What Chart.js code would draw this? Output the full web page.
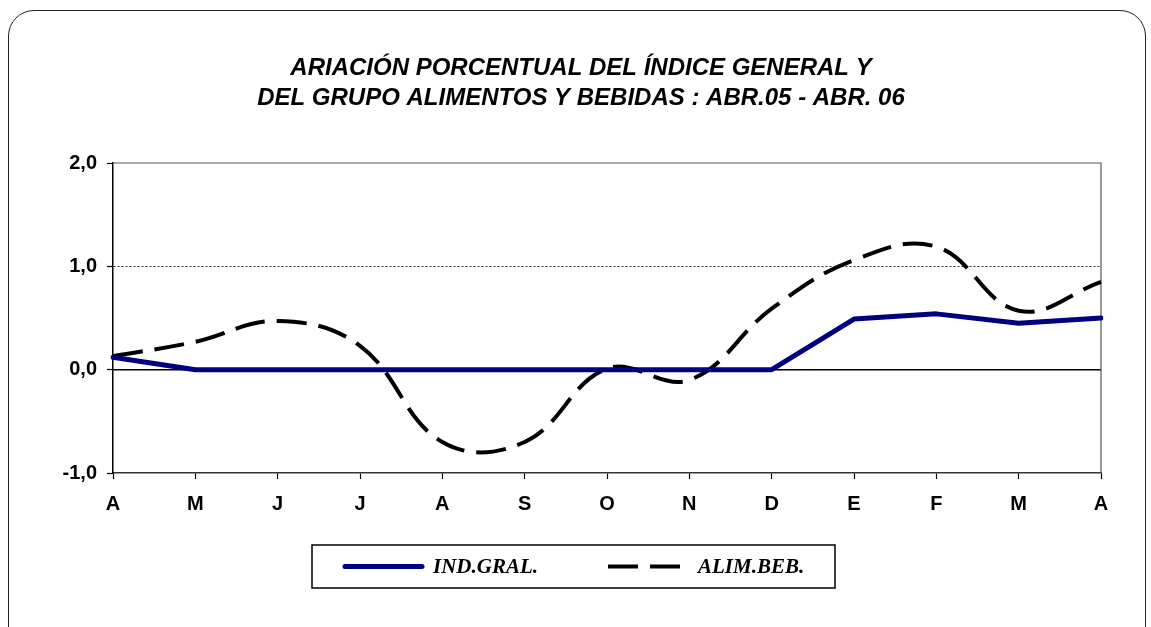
<!DOCTYPE html>
<html lang="es">
<head>
    <meta charset="UTF-8">
    <title>Variación porcentual - Índice general y alimentos</title>
    <script src="https://cdn.jsdelivr.net/npm/chart.js"></script>
    <style>
        body {
            margin: 0;
            background: #ffffff;
            font-family: "Liberation Sans", Arial, sans-serif;
        }
        #marco {
            position: absolute;
            left: 8px;
            top: 10px;
            width: 1136px;
            height: 660px;
            border: 1px solid #222;
            border-radius: 26px;
        }
        #wrap {
            position: absolute;
            left: 0;
            top: 0;
            width: 1151px;
            height: 627px;
        }
    </style>
</head>
<body>
    <div id="marco"></div>
    <div id="wrap"><canvas id="grafico"></canvas></div>

    <script>
        // datos
        const meses = ['A', 'M', 'J', 'J', 'A', 'S', 'O', 'N', 'D', 'E', 'F', 'M', 'A'];
        const indGral = [0.12, 0, 0, 0, 0, 0, 0, 0, 0, 0.49, 0.54, 0.45, 0.50];
        const alimBeb = [0.13, 0.27, 0.47, 0.23, -0.70, -0.70, 0.01, -0.10, 0.59, 1.06, 1.19, 0.57, 0.85];
        const ticksY = [-1, 0, 1, 2];
        const titulo = ['ARIACIÓN PORCENTUAL DEL ÍNDICE GENERAL Y',
                        'DEL GRUPO ALIMENTOS Y BEBIDAS : ABR.05 - ABR. 06'];

        // marco del área, línea del cero y leyenda con recuadro
        const extras = {
            id: 'extras',
            beforeDatasetsDraw(chart) {
                const { ctx, chartArea: a, scales } = chart;
                const y0 = scales.y.getPixelForValue(0);
                ctx.save();
                ctx.strokeStyle = '#000';
                ctx.lineWidth = 1.5;
                ctx.beginPath();
                ctx.moveTo(a.left, y0);
                ctx.lineTo(a.right, y0);
                ctx.stroke();
                ctx.strokeStyle = '#555';
                ctx.lineWidth = 1.2;
                ctx.beginPath();
                ctx.moveTo(a.left, a.top);
                ctx.lineTo(a.right, a.top);
                ctx.lineTo(a.right, a.bottom);
                ctx.stroke();
                ctx.restore();
            },
            afterDraw(chart, args, opts) {
                const { ctx } = chart;
                const b = opts.box;
                ctx.save();
                ctx.strokeStyle = '#000';
                ctx.lineWidth = 1.5;
                ctx.strokeRect(b.x, b.y, b.w, b.h);
                const cy = b.y + b.h / 2;
                ctx.font = opts.font;
                ctx.textBaseline = 'middle';
                ctx.fillStyle = '#000';
                chart.data.datasets.forEach((ds, i) => {
                    const it = opts.items[i];
                    ctx.beginPath();
                    ctx.setLineDash(ds.borderDash || []);
                    ctx.lineCap = ds.borderDash ? 'butt' : 'round';
                    ctx.lineWidth = ds.borderWidth;
                    ctx.strokeStyle = ds.borderColor;
                    ctx.moveTo(it.x, cy);
                    ctx.lineTo(it.x + it.len, cy);
                    ctx.stroke();
                    ctx.setLineDash([]);
                    ctx.fillText(ds.label, it.tx, cy + 1);
                });
                ctx.restore();
            }
        };

        const ctx = document.getElementById('grafico').getContext('2d');
        const chart = new Chart(ctx, {
            type: 'line',
            data: {
                labels: meses,
                datasets: [{
                    label: 'IND.GRAL.',
                    data: indGral,
                    borderColor: '#000080',
                    borderWidth: 5,
                    borderCapStyle: 'round',
                    borderJoinStyle: 'round',
                    pointRadius: 0,
                    tension: 0,
                    fill: false
                }, {
                    label: 'ALIM.BEB.',
                    data: alimBeb,
                    borderColor: '#000',
                    borderWidth: 4,
                    borderDash: [30, 12],
                    pointRadius: 0,
                    tension: 0.4,
                    fill: false
                }]
            },
            options: {
                responsive: true,
                maintainAspectRatio: false,
                animation: false,
                layout: {
                    padding: { left: 61, right: 50, top: 0, bottom: 98 }
                },
                scales: {
                    x: {
                        offset: false,
                        grid: {
                            drawOnChartArea: false,
                            drawTicks: true,
                            tickLength: 6,
                            tickColor: '#000',
                            tickWidth: 1.2
                        },
                        border: { color: '#333', width: 1.5 },
                        ticks: {
                            color: '#000',
                            padding: 13,
                            maxRotation: 0,
                            autoSkip: false,
                            font: { family: '"Liberation Sans", Arial, sans-serif', size: 20, weight: 'bold' }
                        }
                    },
                    y: {
                        min: -1,
                        max: 2,
                        afterFit(scale) { scale.width = 52; },
                        afterBuildTicks(scale) {
                            scale.ticks = ticksY.map(v => ({ value: v }));
                        },
                        grid: {
                            color: c => (c.tick && c.tick.value === 1) ? '#000' : 'rgba(0,0,0,0)',
                            lineWidth: 0.8,
                            tickLength: 6,
                            tickColor: '#000',
                            tickWidth: 1.2
                        },
                        border: { color: '#000', width: 1.5, dash: [2, 2] },
                        ticks: {
                            color: '#000',
                            padding: 10,
                            font: { family: '"Liberation Sans", Arial, sans-serif', size: 20, weight: 'bold' },
                            callback: v => v.toFixed(1).replace('.', ',')
                        }
                    }
                },
                plugins: {
                    legend: { display: false },
                    tooltip: { enabled: false },
                    title: {
                        display: true,
                        text: titulo,
                        color: '#000',
                        font: { family: '"Liberation Sans", Arial, sans-serif', size: 24, weight: 'bold', style: 'italic', lineHeight: 1.25 },
                        padding: { top: 53, bottom: 50 }
                    },
                    extras: {
                        box: { x: 312, y: 545, w: 523, h: 43 },
                        font: 'italic bold 21px "Liberation Serif", "Times New Roman", serif',
                        items: [{ x: 345, len: 77, tx: 433 }, { x: 608, len: 82, tx: 698 }]
                    }
                }
            },
            plugins: [extras]
        });
    </script>
</body>
</html>
